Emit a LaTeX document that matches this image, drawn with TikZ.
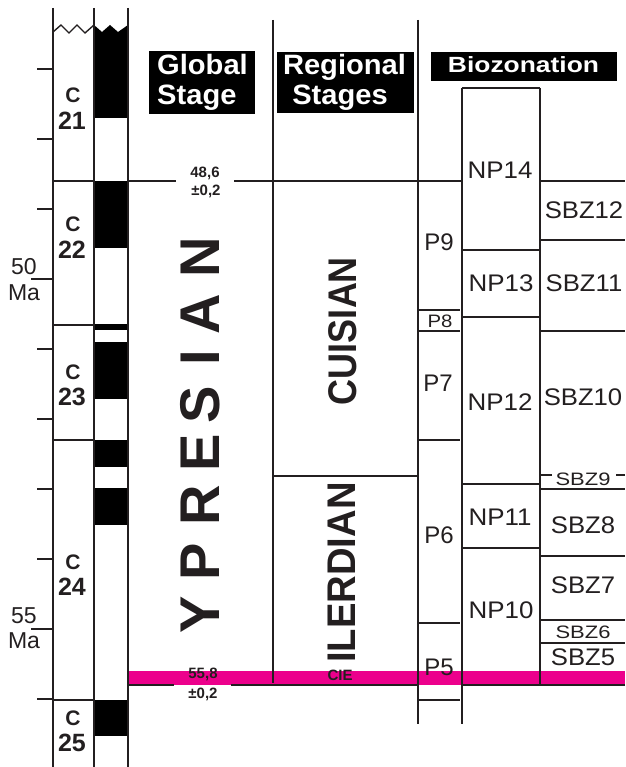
\documentclass[tikz,border=0pt]{standalone}
\usepackage{fontspec}
\setmainfont{Liberation Sans}
\definecolor{cie}{RGB}{236,0,140}
\definecolor{ink}{RGB}{35,31,32}
\newcommand{\hstr}[2]{\scalebox{#1}[1]{#2}}
\begin{document}
\begin{tikzpicture}[x=1pt,y=-1pt,
  every node/.style={inner sep=0pt,text=ink},
  ln/.style={line width=1.8pt,draw=ink},
  bln/.style={line width=2.6pt,draw=ink},
  tick/.style={line width=1.1pt,draw=ink},
  zone/.style={font=\fontsize{24}{24}\selectfont},
  szone/.style={font=\fontsize{18}{18}\selectfont},
  chr/.style={font=\bfseries\fontsize{25}{25}\selectfont},
  chrc/.style={font=\bfseries\fontsize{21}{21}\selectfont},
  ma/.style={font=\fontsize{23}{23}\selectfont},
  age/.style={font=\bfseries\fontsize{15}{15}\selectfont},
  hdr/.style={font=\bfseries\fontsize{28}{28}\selectfont,text=white,anchor=base},
  hdrs/.style={font=\bfseries\fontsize{22}{22}\selectfont,text=white,anchor=base},
  hbox/.style={fill=black},
  ypr/.style={font=\bfseries\fontsize{56}{56}\selectfont,rotate=90},
  reg/.style={font=\bfseries\fontsize{40}{40}\selectfont,rotate=90},
]
\useasboundingbox (0,0) rectangle (625,767);

% CIE band
\fill[cie] (128,671) rectangle (625,685);

% polarity blocks
\fill[black] (94,25) -- (102,32) -- (110,25) -- (118,32) -- (128,25) -- (128,118) -- (94,118) -- cycle;
\fill[black] (94,181) rectangle (128,248);
\fill[black] (94,324) rectangle (128,330);
\fill[black] (94,342) rectangle (128,399);
\fill[black] (94,440) rectangle (128,467);
\fill[black] (94,488) rectangle (128,525);
\fill[black] (94,700) rectangle (128,736);

% magnetostratigraphy columns
\draw[ln] (53,8) -- (53,767);
\draw[ln,line width=1.4pt] (94,8) -- (94,767);
\draw[ln] (128,8) -- (128,767);
\draw[ln,line width=1.4pt,line join=miter] (53,32) -- (61,25) -- (69,33) -- (77,25) -- (85,33) -- (94,25);
\foreach \y in {181,325,440,700} \draw[ln,line width=1.6pt] (53,\y) -- (94,\y);

% ticks
\foreach \y in {69,139,209,349,419,489,559,699} \draw[tick] (37,\y) -- (53,\y);
\draw[tick] (31,279) -- (53,279);
\draw[tick] (31,629) -- (53,629);

% main boundaries
\draw[bln] (128,181) -- (176,181) (234,181) -- (462,181) (540,181) -- (625,181);
\draw[bln] (128,685) -- (174,685) (231,685) -- (418,685) (462,685) -- (625,685);

% verticals
\draw[ln] (273,20) -- (273,683);
\draw[ln] (418,20) -- (418,724);
\draw[ln] (462,88) -- (462,724);
\draw[ln] (540,88) -- (540,686);
\draw[ln] (462,88) -- (540,88);

% regional boundary
\draw[ln] (273,476) -- (418,476);

% P zones
\foreach \y in {310,331,440,623,700} \draw[ln] (419,\y) -- (460,\y);
% NP zones
\foreach \y in {250,317,484,548} \draw[ln] (463,\y) -- (540,\y);
% SBZ zones
\foreach \y in {240,331,489,556,620,643} \draw[ln] (540,\y) -- (625,\y);
\draw[ln] (540,475) -- (552,475);
\draw[ln] (616,475) -- (625,475);

% headers
\fill[hbox] (149,51) rectangle (255,114);
\fill[hbox] (277,52) rectangle (414,113);
\fill[hbox] (431,52) rectangle (617,81);
\node[hdr,anchor=base west] (hg1) at (157,75) {\hstr{1.04}{Global}};
\node[hdr,anchor=base west] (hg2) at (157,105) {\hstr{1.04}{Stage}};
\node[hdr] (hr1) at (344.5,75) {\hstr{1.04}{Regional}};
\node[hdr] (hr2) at (340,105) {\hstr{1.04}{Stages}};
\node[hdrs] (hb) at (523.5,73) {\hstr{1.2}{Biozonation}};

% Ma labels
\node[ma] (m50) at (24,267) {50};
\node[ma] (m50u) at (24,293) {Ma};
\node[ma] (m55) at (24,616) {55};
\node[ma] (m55u) at (24,641) {Ma};

% chron labels
\node[chrc] (c21a) at (73,95) {C};
\node[chr] (c21b) at (72,121) {21};
\node[chrc] (c22a) at (73,224) {C};
\node[chr] (c22b) at (72,250) {22};
\node[chrc] (c23a) at (73,372) {C};
\node[chr] (c23b) at (72,397) {23};
\node[chrc] (c24a) at (73,562) {C};
\node[chr] (c24b) at (72,587) {24};
\node[chrc] (c25a) at (73,718) {C};
\node[chr] (c25b) at (72,743) {25};

% ages
\node[age] (a1) at (205,173) {48,6};
\node[age] (a2) at (206,191) {±0,2};
\node[age] (a3) at (203,674) {55,8};
\node[age] (a4) at (203,694) {±0,2};
\node[age] (cie) at (340,675) {CIE};

% Ypresian
\node[ypr] (yY) at (200,615) {Y};
\node[ypr] (yP) at (200,562) {P};
\node[ypr] (yR) at (200,505.5) {R};
\node[ypr] (yE) at (200,452.5) {E};
\node[ypr] (yS) at (200,404.5) {S};
\node[ypr] (yI) at (200,357.5) {I};
\node[ypr] (yA) at (200,314) {A};
\node[ypr] (yN) at (200,257.5) {N};

% regional stages
\node[reg] (cui) at (342.5,331) {\hstr{0.9}{CUISIAN}};
\node[reg] (ile) at (341.5,572.5) {\hstr{0.955}{ILERDIAN}};

% P zones labels
\node[zone] (p9) at (439,242) {P9};
\node[szone] (p8) at (440,321) {\hstr{1.13}{P8}};
\node[zone] (p7) at (438,383) {P7};
\node[zone] (p6) at (439,535) {P6};
\node[zone] (p5) at (439,667) {P5};

% NP labels
\node[zone] (np14) at (500,170) {\hstr{1.08}{NP14}};
\node[zone] (np13) at (501,283) {\hstr{1.08}{NP13}};
\node[zone] (np12) at (500,402) {\hstr{1.08}{NP12}};
\node[zone] (np11) at (500,517) {\hstr{1.08}{NP11}};
\node[zone] (np10) at (501,610) {\hstr{1.08}{NP10}};

% SBZ labels
\node[zone] (s12) at (584,210) {\hstr{1.07}{SBZ12}};
\node[zone] (s11) at (584,283) {\hstr{1.07}{SBZ11}};
\node[zone] (s10) at (583,397) {\hstr{1.07}{SBZ10}};
\node[szone] (s9) at (583,479) {\hstr{1.22}{SBZ9}};
\node[zone] (s8) at (583,525) {\hstr{1.07}{SBZ8}};
\node[zone] (s7) at (583,585) {\hstr{1.07}{SBZ7}};
\node[szone] (s6) at (583,632) {\hstr{1.22}{SBZ6}};
\node[zone] (s5) at (583,657) {\hstr{1.07}{SBZ5}};
\end{tikzpicture}
\end{document}
